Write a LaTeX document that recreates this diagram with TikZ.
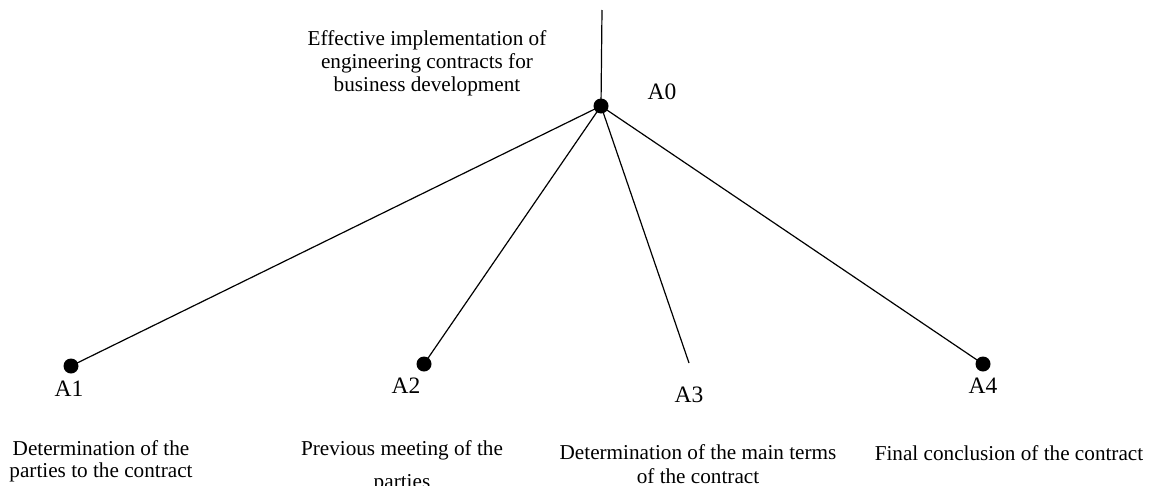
\documentclass[tikz,border=0pt]{standalone}
\usepackage{fontspec}
\setmainfont{Liberation Serif}
\begin{document}
\begin{tikzpicture}[x=1pt,y=-1pt,
  dot/.style={circle,fill=black,draw=none,minimum size=15pt,inner sep=0pt},
  lbl/.style={font=\fontsize{23.5}{26}\selectfont,inner sep=0pt,anchor=base},
  txt/.style={font=\fontsize{21.2}{23}\selectfont,inner sep=0pt,align=center,anchor=base},
  conn/.style={line width=1.2pt,black}]
\useasboundingbox (0,0) rectangle (1149,485);
\coordinate (top) at (602,10);
\node[dot] (A0) at (601,106) {};
\node[dot] (A1) at (71,366) {};
\node[dot] (A2) at (424,364) {};
\coordinate (A3) at (689,363);
\node[dot] (A4) at (983,364) {};
\draw[conn] (top) -- (A0.center);
\draw[conn] (A0.center) -- (A1.center);
\draw[conn] (A0.center) -- (A2.center);
\draw[conn] (A0.center) -- (A3);
\draw[conn] (A0.center) -- (A4.center);
\node[lbl] (l0) at (662,99) {A0};
\node[lbl] (l1) at (69,396) {A1};
\node[lbl] (l2) at (406,393) {A2};
\node[lbl] (l3) at (689,402) {A3};
\node[lbl] (l4) at (983,393) {A4};
\node[txt] (t0) at (427,91) {Effective implementation of\\engineering contracts for\\business development};
\node[txt] (t1) at (101,477) {Determination of the\\[-1pt]parties to the contract};
\node[txt] (t2) at (402,488) {Previous meeting of the\\[10pt]parties};
\node[txt] (t3) at (698,483) {Determination of the main terms\\[1pt]of the contract};
\node[txt] (t4) at (1009,460) {Final conclusion of the contract};
\end{tikzpicture}
\end{document}
